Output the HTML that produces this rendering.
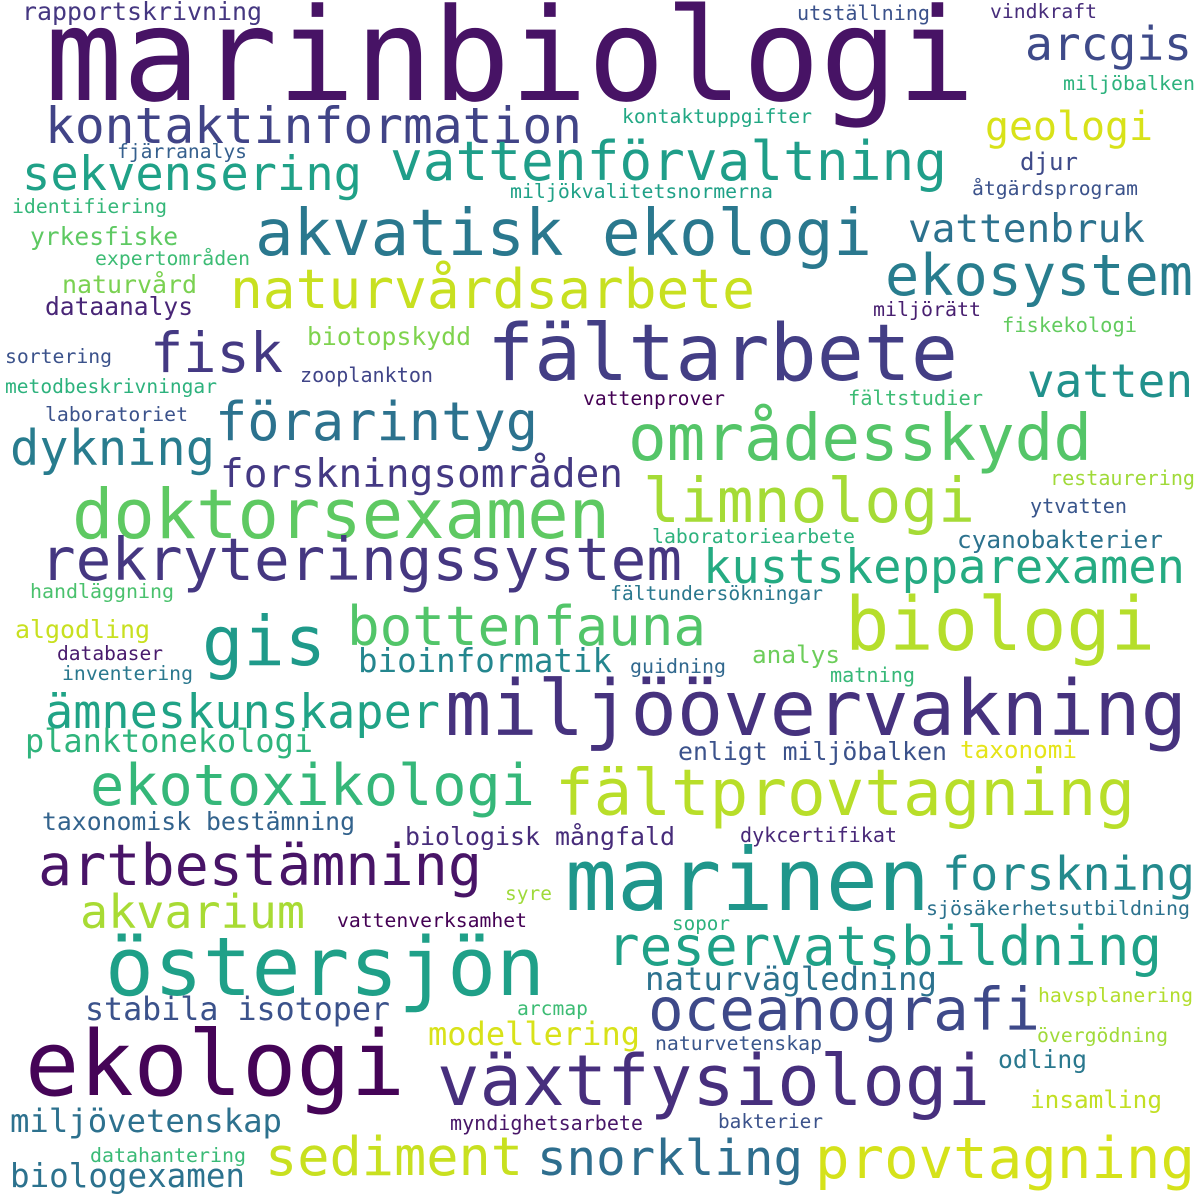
<!DOCTYPE html>
<html><head><meta charset="utf-8"><style>
html,body{margin:0;padding:0;background:#fff;}
svg{display:block}
text{font-family:"DejaVu Sans Mono","Liberation Mono",monospace;}
</style></head><body>
<svg id="cloud" width="1200" height="1200" viewBox="0 0 1200 1200" xmlns="http://www.w3.org/2000/svg">
<rect width="1200" height="1200" fill="#fff"/>
</svg>
<script>
const words=["marinbiologi","kontaktinformation","arcgis","rapportskrivning","utställning","vindkraft","miljöbalken","geologi","kontaktuppgifter","fjärranalys","sekvensering","vattenförvaltning","djur","miljökvalitetsnormerna","åtgärdsprogram","identifiering","akvatisk ekologi","vattenbruk","yrkesfiske","expertområden","naturvårdsarbete","ekosystem","naturvård","dataanalys","miljörätt","fiskekologi","fisk","fältarbete","biotopskydd","sortering","zooplankton","metodbeskrivningar","vatten","laboratoriet","vattenprover","fältstudier","förarintyg","områdesskydd","dykning","forskningsområden","restaurering","doktorsexamen","limnologi","ytvatten","rekryteringssystem","laboratoriearbete","cyanobakterier","kustskepparexamen","handläggning","fältundersökningar","gis","bottenfauna","biologi","algodling","databaser","inventering","bioinformatik","guidning","analys","matning","ämneskunskaper","miljöövervakning","planktonekologi","enligt miljöbalken","taxonomi","ekotoxikologi","fältprovtagning","taxonomisk bestämning","biologisk mångfald","dykcertifikat","artbestämning","marinen","forskning","syre","akvarium","sopor","sjösäkerhetsutbildning","vattenverksamhet","östersjön","reservatsbildning","naturvägledning","havsplanering","stabila isotoper","oceanografi","arcmap","övergödning","modellering","naturvetenskap","ekologi","växtfysiologi","odling","insamling","miljövetenskap","myndighetsarbete","bakterier","datahantering","sediment","snorkling","provtagning","biologexamen"];
const colors=["#471365","#414487","#3e4a89","#453781","#3b528b","#472d7b","#2db27d","#d8e219","#22a884","#355f8d","#1fa187","#1f9e89","#3e4a89","#1fa187","#3b528b","#35b779","#2a788e","#2c728e","#5ec962","#3dbc74","#c8e020","#287d8e","#7ad151","#482576","#481f70","#63cb5f","#443983","#433e85","#7fd34e","#3b528b","#404588","#2db27d","#21918c","#3b528b","#440154","#3dbc74","#2c728e","#54c568","#287c8e","#443983","#a0da39","#5ec962","#a5db36","#39568c","#453781","#2db27d","#2c728e","#25ab82","#4ac16d","#2a788e","#1f9a8a","#52c569","#b5de2b","#c8e020","#481a6c","#2a788e","#24868e","#31688e","#6ccd5a","#37b878","#20a386","#46327e","#2fb47c","#3b528b","#e5e419","#35b779","#b8de29","#33638d","#472c7a","#482878","#481467","#1f968b","#238a8d","#9fda3a","#a8db34","#2db27d","#2c728e","#440154","#1fa088","#1fa187","#2c728e","#b2dd2d","#3b528b","#3e4989","#3dbc74","#a0da39","#d8e219","#39568c","#450457","#472f7d","#2a788e","#c2df23","#2d718e","#481668","#3b528b","#3aba76","#c8e020","#2e6e8e","#d5e21a","#2c728e"];
// layout boxes: [left, right, baseline]
const layout=[[45,975,100],[45,582,143],[1025,1192,60],[22,262,20],[797,930,20],[990,1097,18],[1063,1195,90],[985,1153,140],[622,812,123],[117,247,158],[22,362,190],[390,947,180],[1020,1078,170],[510,773,198],[972,1138,195],[12,167,213],[255,872,255],[908,1145,242],[30,178,245],[95,250,265],[230,755,308],[885,1193,295],[62,197,293],[45,193,315],[873,981,316],[1002,1137,332],[150,283,372],[487,958,380],[307,471,345],[5,112,363],[300,433,382],[5,217,393],[1027,1193,397],[45,188,421],[583,725,405],[848,983,405],[215,538,440],[628,1092,460],[10,215,465],[220,623,487],[1050,1195,485],[72,610,538],[643,975,522],[1030,1127,513],[40,682,580],[652,855,543],[957,1163,548],[703,1185,583],[30,174,598],[610,823,600],[202,326,665],[347,706,645],[845,1155,650],[15,150,638],[57,163,660],[62,193,680],[358,612,672],[630,726,673],[752,840,663],[830,915,682],[45,440,728],[445,1187,735],[25,313,752],[678,947,760],[960,1077,758],[90,535,805],[555,1135,815],[42,355,830],[405,675,845],[740,897,842],[38,482,885],[565,930,910],[942,1195,890],[505,552,900],[80,305,928],[672,730,930],[926,1190,915],[337,527,927],[105,545,995],[607,1162,965],[645,937,990],[1038,1193,1002],[85,390,1020],[648,1040,1030],[517,588,1015],[1037,1168,1042],[428,640,1045],[655,822,1050],[25,405,1095],[437,990,1105],[998,1087,1068],[1030,1162,1108],[10,282,1132],[450,643,1130],[718,823,1128],[90,246,1162],[265,523,1175],[537,803,1175],[815,1195,1178],[10,245,1187]];
const svg=document.getElementById('cloud');
const NS="http://www.w3.org/2000/svg";
words.forEach((w,i)=>{
  const b=layout[i];
  const width=b[1]-b[0];
  const fs=width/(w.length*0.602);
  const t=document.createElementNS(NS,'text');
  
  
  t.setAttribute('x',b[0]);
  t.setAttribute('y',b[2]);
  t.setAttribute('font-size',fs.toFixed(1));
  t.setAttribute('fill',colors[i]);
  t.setAttribute('textLength',width);
  t.setAttribute('lengthAdjust','spacingAndGlyphs');
  t.textContent=w;
  svg.appendChild(t);
});
</script>
</body></html>
